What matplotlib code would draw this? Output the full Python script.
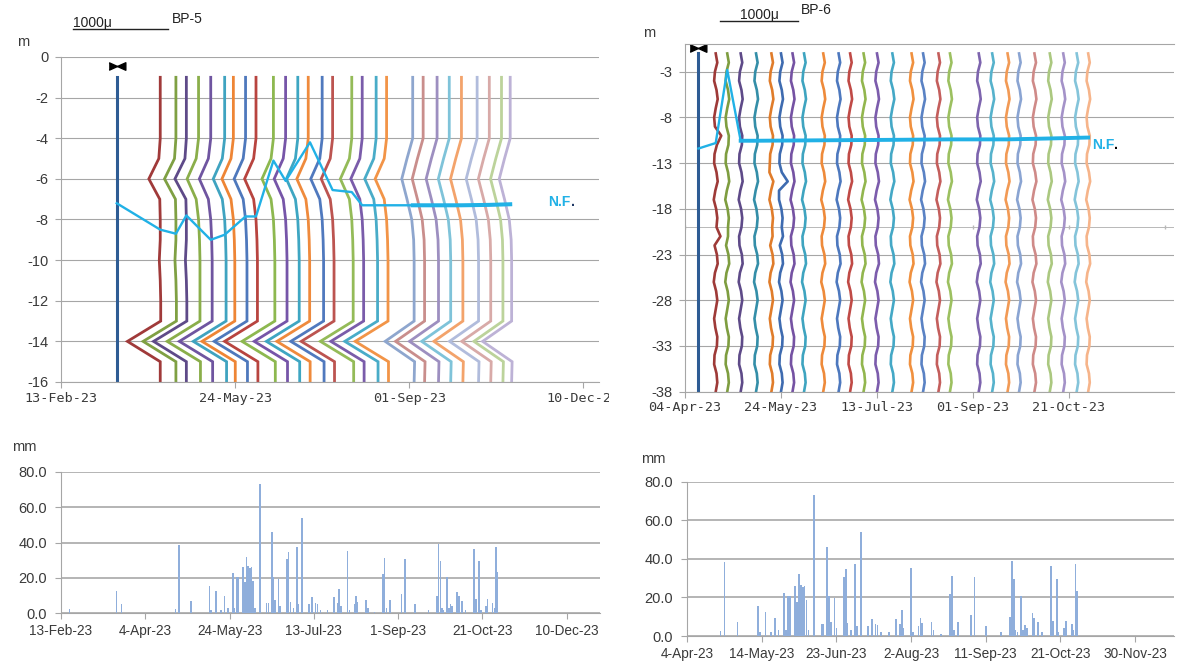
import matplotlib
matplotlib.use("Agg")
import matplotlib.pyplot as plt
import matplotlib.dates as mdates
import numpy as np
import pandas as pd
from matplotlib.patches import Rectangle
from matplotlib.ticker import FuncFormatter
from matplotlib.transforms import blended_transform_factory

plt.rcParams["font.family"] = ["Liberation Sans", "DejaVu Sans"]
plt.rcParams["axes.unicode_minus"] = False

# ---------------- BP-5 inclinometer ----------------
BP5_DEPTHS = [-1, -2, -3, -4, -5, -6, -7, -8, -9, -10, -11, -12, -13, -14, -15, -16]
BP5_REF_DATE = "2023-03-17"
BP5_DATES = ["2023-04-11", "2023-04-20", "2023-04-26", "2023-05-03", "2023-05-10",
             "2023-05-18", "2023-05-23", "2023-05-30", "2023-06-05", "2023-06-15",
             "2023-06-22", "2023-06-29", "2023-07-05", "2023-07-13", "2023-07-19",
             "2023-07-30", "2023-08-05", "2023-08-13", "2023-08-19", "2023-09-03",
             "2023-09-09", "2023-09-17", "2023-09-24", "2023-10-01", "2023-10-10",
             "2023-10-17", "2023-10-24", "2023-10-29"]
# displacement (micron) per depth station
BP5_PROFILE_EARLY = [0, 0, 0, 0, -15, -120, -5, 0, 0, -10, 0, 5, 5, -345, 0, 0]
BP5_PROFILE_MID = [0, 0, 0, 0, -25, -120, -25, 0, 10, 15, 15, 15, 15, -330, 20, 20]
BP5_PROFILE_LATE = [0, 0, 0, 0, -60, -115, -60, -10, 10, 15, 15, 15, 15, -290, 20, 15]
BP5_LINE_PROFILE = [0, 0, 0, 1, 1, 1, 1, 1, 1, 1, 1, 1, 1, 1, 1, 1, 1, 1, 1,
                    2, 2, 2, 2, 2, 2, 2, 2, 2]
BP5_NF_DATES = ["2023-03-17", "2023-04-11", "2023-04-20", "2023-04-26", "2023-05-10",
                "2023-05-18", "2023-05-30", "2023-06-05", "2023-06-15", "2023-06-22",
                "2023-07-06", "2023-07-19", "2023-07-30", "2023-08-05", "2023-08-13",
                "2023-08-19", "2023-09-03", "2023-09-17", "2023-10-01", "2023-10-17",
                "2023-10-29"]
BP5_NF_DEPTHS = [-7.2, -8.5, -8.7, -7.8, -9.0, -8.75, -7.85, -7.85, -5.1, -6.1,
                 -4.2, -6.55, -6.65, -7.3, -7.3, -7.3, -7.3, -7.3, -7.3, -7.28, -7.25]

# ---------------- BP-6 inclinometer ----------------
BP6_DEPTHS = list(range(-1, -39, -1))
BP6_REF_DATE = "2023-04-11"
BP6_DATES = ["2023-04-20", "2023-04-26", "2023-05-03", "2023-05-11", "2023-05-19",
             "2023-05-24", "2023-05-30", "2023-06-05", "2023-06-15", "2023-06-23",
             "2023-06-29", "2023-07-06", "2023-07-13", "2023-07-21", "2023-07-31",
             "2023-08-06", "2023-08-14", "2023-08-20", "2023-09-04", "2023-09-11",
             "2023-09-19", "2023-09-25", "2023-10-03", "2023-10-11", "2023-10-18",
             "2023-10-25", "2023-10-31"]
BP6_WIGGLE = [0, 20, -10, -20, 10, 25, 0, -20, -10, 20, 15, -15, -20, 10, 25, -5,
              -25, 5, 20, 10, -20, -15, 15, 25, -10, -25, 5, 20, 0, -20, -5, 20,
              15, -15, -20, 10, 20, 0]
# (reading index, depth, extra micron)
BP6_KINKS = [(0, -10, 50), (0, -21, 80), (1, -21, 30), (4, -14, -35), (4, -21, 35),
             (5, -15, 60), (5, -16, -20), (5, -21, 45)]
BP6_NF_DATES = ["2023-04-11", "2023-04-20", "2023-04-26", "2023-05-03", "2023-05-11",
                "2023-06-15", "2023-07-21", "2023-08-20", "2023-09-19", "2023-10-11",
                "2023-10-31"]
BP6_NF_DEPTHS = [-11.4, -10.8, -2.8, -10.55, -10.55, -10.5, -10.45, -10.4, -10.4,
                 -10.3, -10.2]

# ---------------- daily rainfall ----------------
RAIN_DATES = ["2023-02-18", "2023-03-18", "2023-03-21", "2023-04-22", "2023-04-24",
              "2023-05-01", "2023-05-12", "2023-05-13", "2023-05-16", "2023-05-19",
              "2023-05-21", "2023-05-23", "2023-05-26", "2023-05-27", "2023-05-28",
              "2023-05-29", "2023-06-01", "2023-06-02", "2023-06-03", "2023-06-04",
              "2023-06-05", "2023-06-06", "2023-06-07", "2023-06-08", "2023-06-11",
              "2023-06-15", "2023-06-16", "2023-06-18", "2023-06-19", "2023-06-20",
              "2023-06-22", "2023-06-23", "2023-06-27", "2023-06-28", "2023-06-29",
              "2023-07-01", "2023-07-03", "2023-07-04", "2023-07-06", "2023-07-10",
              "2023-07-12", "2023-07-14", "2023-07-15", "2023-07-17", "2023-07-21",
              "2023-07-25", "2023-07-27", "2023-07-28", "2023-07-29", "2023-08-02",
              "2023-08-03", "2023-08-06", "2023-08-07", "2023-08-08", "2023-08-13",
              "2023-08-14", "2023-08-18", "2023-08-23", "2023-08-24", "2023-08-25",
              "2023-08-27", "2023-09-03", "2023-09-05", "2023-09-11", "2023-09-19",
              "2023-09-24", "2023-09-25", "2023-09-26", "2023-09-27", "2023-09-28",
              "2023-09-30", "2023-10-01", "2023-10-02", "2023-10-03", "2023-10-06",
              "2023-10-07", "2023-10-09", "2023-10-11", "2023-10-16", "2023-10-17",
              "2023-10-19", "2023-10-20", "2023-10-23", "2023-10-24", "2023-10-27",
              "2023-10-28", "2023-10-29", "2023-10-30"]
RAIN_MM = [2.5, 12.5, 5, 2.5, 38.5,
           7, 15.5, 2, 12.5, 2,
           9.5, 3, 22.5, 3, 20.5,
           20.5, 26, 17.5, 32, 26.5,
           25.5, 26, 18.5, 3, 73,
           6, 6, 46, 20.5, 7.5,
           19.5, 4, 30.5, 34.5, 6.5,
           3, 37.5, 5, 54, 5,
           9, 6, 5.5, 2, 2,
           9, 6, 13.5, 4, 35,
           2, 5, 9.5, 6.5, 7.5,
           3, 1, 22, 31, 3,
           7.5, 11, 30.5, 5, 2,
           10, 39, 29.5, 3, 2,
           20.5, 3, 5.5, 4, 12,
           9.5, 7, 2, 36.5, 8,
           29.5, 2, 4, 8, 6,
           3, 37.5, 23.5]

# ---------------- styles ----------------
REF_COLOR = "#2E5C94"
NF_COLOR = "#21B1E6"
BP5_COLORS = ["#A03A3A", "#7FA043", "#5E4A88", "#8AAE4A", "#6F55A0", "#3FA3C0",
              "#EE8535", "#4E78BC", "#B8443F", "#8DB84F", "#7655A8", "#3EA6C2",
              "#EF8A3C", "#5079BE", "#BC5450", "#94BB58", "#7A5CAA", "#49ACC8",
              "#F29447", "#8EA6CE", "#C98E8C", "#9D8FC0", "#7FC3D9", "#F3A36B",
              "#B1BCDC", "#D8AAA8", "#BCD39B", "#BDB2D6"]
BP6_COLORS = ["#9E3A38", "#7E9D40", "#5E4A88", "#348EA8", "#E07C2A", "#3E6BB0",
              "#7552A3", "#3EA4C0", "#EE8A3A", "#4D78BE", "#C04A46", "#92B64E",
              "#7C5CAC", "#44A8C6", "#F0903E", "#5A82C4", "#C45E5C", "#9CC060",
              "#7D64AE", "#56B2CC", "#F29A55", "#8AA4D2", "#CF8A88", "#ABC880",
              "#A492C8", "#84C4DA", "#F6B48A"]
GRID = "#A6A6A6"
TXT = "#3A3A3A"
BOWTIE = [(-1, -0.45), (0, 0), (1, -0.45), (1, 0.45), (0, 0), (-1, 0.45)]
BP5_DAYS_PER_1000U = 54.6
BP6_DAYS_PER_1000U = 41.1

W, H = 1178, 669
fig = plt.figure(figsize=(W / 100, H / 100), dpi=100)


def add_ax(left, top, right, bottom):
    return fig.add_axes([left / W, 1 - bottom / H, (right - left) / W, (bottom - top) / H])


def d2n(d):
    return mdates.date2num(pd.to_datetime(d))


def base_style(ax, top_spine=False):
    ax.spines["right"].set_visible(False)
    ax.spines["top"].set_visible(top_spine)
    for s in ["left", "bottom", "top"]:
        ax.spines[s].set_color(GRID)
        ax.spines[s].set_linewidth(0.8)
    ax.tick_params(color=GRID, labelcolor=TXT, length=4, width=0.8, direction="out")
    ax.yaxis.grid(True, color=GRID, lw=0.8)
    ax.set_axisbelow(True)


def dmy(x, pos):
    d = mdates.num2date(x)
    return f"{d.day}-{d.strftime('%b-%y')}"


# ================= top-left : BP-5 =================
ax1 = add_ax(61, 57, 599, 382)
base_style(ax1)
x0 = d2n("2023-02-13")
ax1.set_xlim(x0, x0 + 309)
ax1.set_ylim(-16, 0)
ax1.set_yticks(range(0, -17, -2))
ax1.set_xticks(d2n(pd.date_range("2023-02-13", periods=4, freq="100D")))
ax1.xaxis.set_major_formatter(mdates.DateFormatter("%d-%b-%y"))
ax1.tick_params(axis="y", labelsize=10.5, pad=5)
ax1.tick_params(axis="x", labelsize=9.7, pad=3)
for lab in ax1.get_xticklabels():
    lab.set_fontfamily("DejaVu Sans Mono")

ref5 = d2n(BP5_REF_DATE)
ax1.plot([ref5] * len(BP5_DEPTHS), BP5_DEPTHS, color=REF_COLOR, lw=2.2)
ax1.plot(ref5, -0.45, marker=BOWTIE, ms=12, color="black", ls="none", clip_on=False)
profiles5 = [BP5_PROFILE_EARLY, BP5_PROFILE_MID, BP5_PROFILE_LATE]
for date, pidx, col in zip(BP5_DATES, BP5_LINE_PROFILE, BP5_COLORS):
    xs = d2n(date) + np.array(profiles5[pidx]) * BP5_DAYS_PER_1000U / 1000
    ax1.plot(xs, BP5_DEPTHS, color=col, lw=2.0, solid_joinstyle="miter")

nf5x = d2n(BP5_NF_DATES)
ax1.plot(nf5x, BP5_NF_DEPTHS, color=NF_COLOR, lw=1.7, zorder=5)
ax1.plot(nf5x[16:], BP5_NF_DEPTHS[16:], color=NF_COLOR, lw=2.9, zorder=5)
t5 = ax1.text(d2n("2023-11-20"), -7.15, "N.F", color=NF_COLOR, fontsize=10,
              fontweight="bold", va="center", ha="left")
ax1.annotate(".", xy=(1, 0), xycoords=t5, va="bottom", ha="left", fontsize=10,
             fontweight="bold", color="#1F3864")

tr1 = blended_transform_factory(ax1.transData, ax1.transAxes)
b5 = d2n("2023-02-20")
ax1.plot([b5, b5 + BP5_DAYS_PER_1000U], [1.0862, 1.0862], color="#222222", lw=1.0,
         transform=tr1, clip_on=False)
ax1.text(b5, 1.0923, "1000μ", transform=tr1, fontsize=10, color="#222222",
         ha="left", va="baseline")
ax1.text(b5 + BP5_DAYS_PER_1000U + 2, 1.1046, "BP-5", transform=tr1, fontsize=10,
         color="#222222", ha="left", va="baseline")
fig.text(17 / W, 1 - 42 / H, "m", fontsize=10.5, color=TXT, va="center")

# ================= top-right : BP-6 =================
ax2 = add_ax(685, 44.3, 1174, 391.7)
base_style(ax2, top_spine=True)
x0 = d2n("2023-04-04")
ax2.set_xlim(x0, x0 + 254.7)
ax2.set_ylim(-38, 0)
ax2.set_yticks(range(-38, 0, 5))
ax2.set_xticks(d2n(pd.date_range("2023-04-04", periods=5, freq="50D")))
ax2.xaxis.set_major_formatter(mdates.DateFormatter("%d-%b-%y"))
ax2.tick_params(axis="y", labelsize=10.5, pad=5)
ax2.tick_params(axis="x", labelsize=9.7, pad=3)
for lab in ax2.get_xticklabels():
    lab.set_fontfamily("DejaVu Sans Mono")

sec_ticks = d2n(pd.date_range("2023-04-04", periods=6, freq="50D"))
ax2.axhline(-20, color="#B8B8B8", lw=0.7, zorder=0.5)
ax2.plot(sec_ticks, [-20] * len(sec_ticks), ls="none", marker="|", ms=3,
         color="#B8B8B8", zorder=0.5)

ref6 = d2n(BP6_REF_DATE)
ax2.plot([ref6] * len(BP6_DEPTHS), BP6_DEPTHS, color=REF_COLOR, lw=2.2)
ax2.plot(ref6, -0.44, marker=BOWTIE, ms=12, color="black", ls="none", clip_on=False)
for i, (date, col) in enumerate(zip(BP6_DATES, BP6_COLORS)):
    disp = np.array(BP6_WIGGLE, dtype=float)
    for li, dep, extra in BP6_KINKS:
        if li == i:
            disp[BP6_DEPTHS.index(dep)] += extra
    xs = d2n(date) + disp * BP6_DAYS_PER_1000U / 1000
    ax2.plot(xs, BP6_DEPTHS, color=col, lw=1.9)

nf6x = d2n(BP6_NF_DATES)
ax2.plot(nf6x, BP6_NF_DEPTHS, color=NF_COLOR, lw=1.7, zorder=5)
ax2.plot(nf6x[3:], BP6_NF_DEPTHS[3:], color=NF_COLOR, lw=2.8, zorder=5)
t6 = ax2.text(d2n("2023-11-02"), -11.0, "N.F", color=NF_COLOR, fontsize=10,
              fontweight="bold", va="center", ha="left")
ax2.annotate(".", xy=(1, 0), xycoords=t6, va="bottom", ha="left", fontsize=10,
             fontweight="bold", color="black")

tr2 = blended_transform_factory(ax2.transData, ax2.transAxes)
b6 = d2n("2023-04-22")
ax2.plot([b6, b6 + BP6_DAYS_PER_1000U], [1.0685, 1.0685], color="#222222", lw=1.0,
         transform=tr2, clip_on=False)
ax2.text(b6 + BP6_DAYS_PER_1000U / 2, 1.0729, "1000μ", transform=tr2, fontsize=10,
         color="#222222", ha="center", va="baseline")
ax2.text(b6 + BP6_DAYS_PER_1000U + 1.5, 1.0873, "BP-6", transform=tr2, fontsize=10,
         color="#222222", ha="left", va="baseline")
fig.text(643 / W, 1 - 33 / H, "m", fontsize=10.5, color=TXT, va="center")

# hide the clipped end of the "10-Dec-23" label of the left chart
fig.add_artist(Rectangle((609 / W, 1 - 412 / H), 36 / W, 24 / H, transform=fig.transFigure,
                         facecolor="white", edgecolor="none", zorder=10))

# ================= bottom : rainfall =================
rain_x = d2n(RAIN_DATES)


def rain_axis(ax, start, span, step, n):
    base_style(ax)
    ax.yaxis.grid(True, color="#A0A0A0", lw=1.1)
    x0 = d2n(start)
    ax.set_xlim(x0, x0 + span)
    ax.set_ylim(0, 80)
    ax.set_yticks([0, 20, 40, 60, 80])
    ax.yaxis.set_major_formatter(FuncFormatter(lambda v, p: f"{v:.1f}"))
    ax.set_xticks(d2n(pd.date_range(start, periods=n, freq=f"{step}D")))
    ax.xaxis.set_major_formatter(FuncFormatter(dmy))
    ax.tick_params(axis="y", labelsize=10.5, pad=6)
    ax.tick_params(axis="x", labelsize=9.8, pad=4)
    ax.bar(rain_x, RAIN_MM, width=0.9, color="#8FAEDB", edgecolor="none", zorder=3)


ax3 = add_ax(61, 471.7, 600, 613.3)
rain_axis(ax3, "2023-02-13", 319.7, 50, 7)
fig.text(12 / W, 1 - 447 / H, "mm", fontsize=10.5, color=TXT, va="center")

ax4 = add_ax(687, 481.7, 1174, 636)
rain_axis(ax4, "2023-04-04", 260.8, 40, 7)
fig.text(641 / W, 1 - 459 / H, "mm", fontsize=10.5, color=TXT, va="center")

fig.savefig("out.png", dpi=100)
